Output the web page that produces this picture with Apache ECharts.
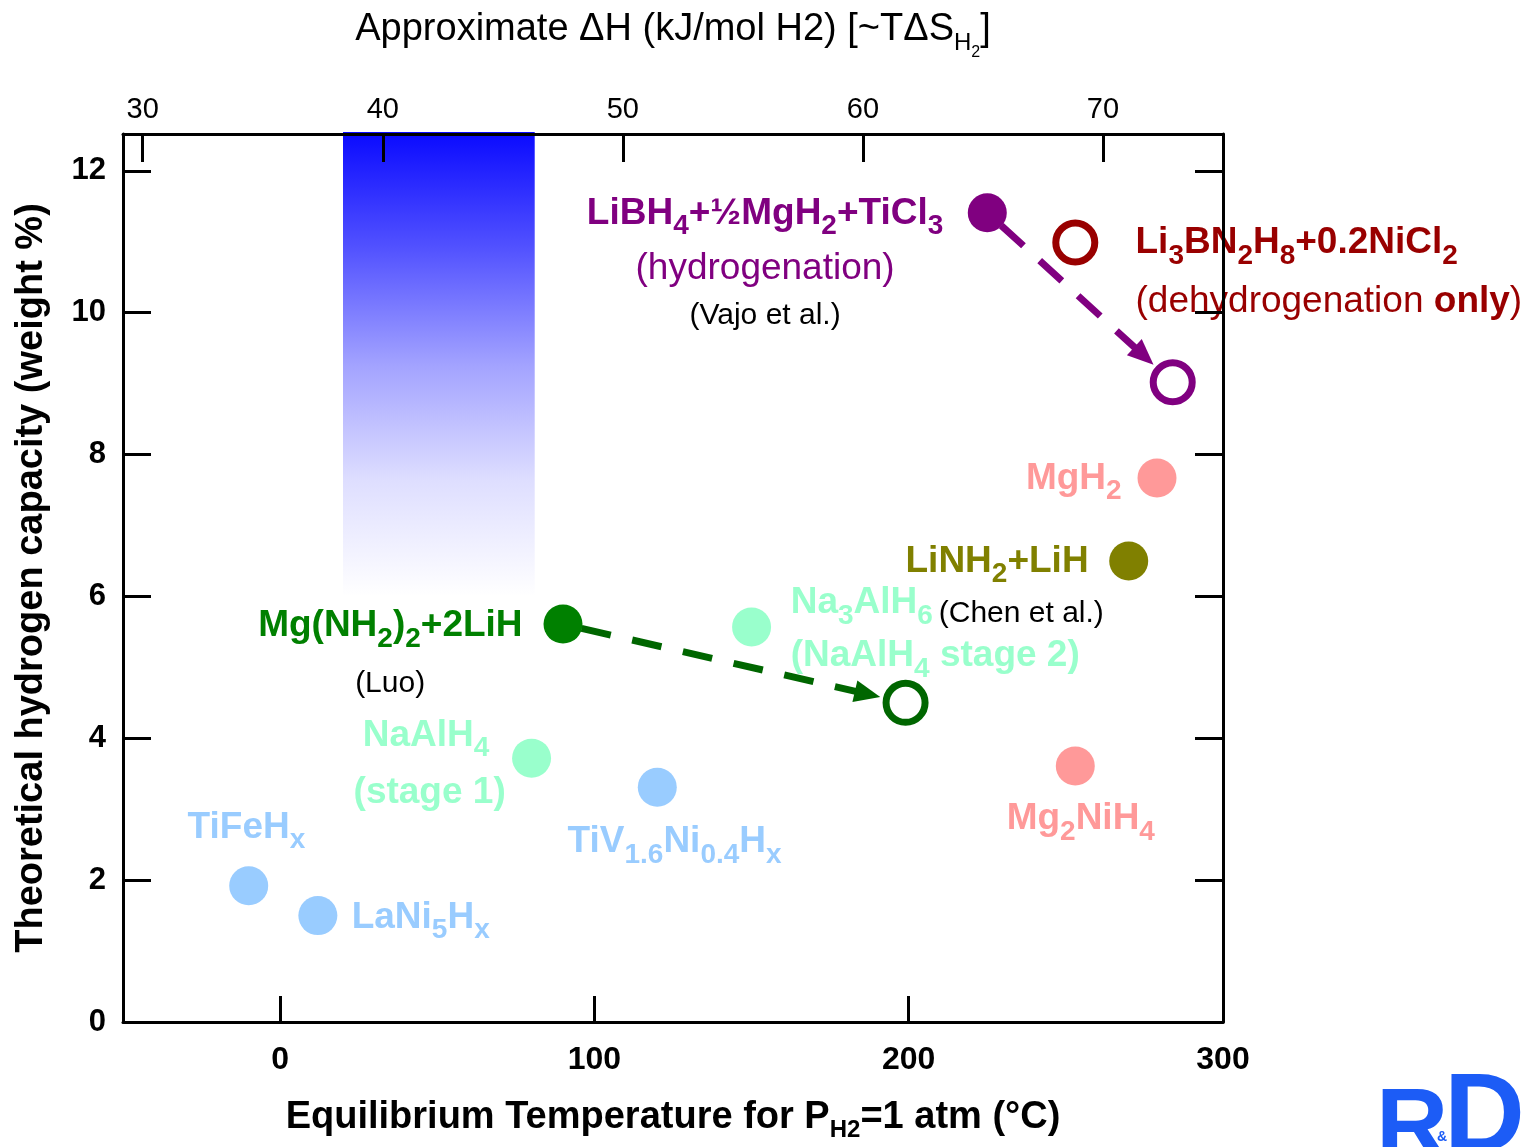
<!DOCTYPE html>
<html>
<head>
<meta charset="utf-8">
<title>Hydrogen storage materials</title>
<script src="https://cdn.jsdelivr.net/npm/echarts@6/dist/echarts.min.js"></script>
<style>
  html, body { margin: 0; padding: 0; background: #fff; }
  #chart { width: 1539px; height: 1147px; }
</style>
</head>
<body>
<div id="chart"></div>
<script>
// ---- Data -------------------------------------------------------------
// Filled markers: hydride systems (equilibrium T at 1 atm H2, capacity wt%)
const materials = ['TiFeHx', 'LaNi5Hx', 'NaAlH4 (stage 1)', 'TiV1.6Ni0.4Hx', 'Na3AlH6',
  'Mg(NH2)2+2LiH', 'MgH2', 'LiNH2+LiH', 'Mg2NiH4', 'LiBH4+1/2MgH2+TiCl3'];
const eqTemperature = [-10, 12, 80, 120, 150, 90, 279, 270, 253, 225];
const capacity = [1.92, 1.5, 3.72, 3.31, 5.57, 5.61, 7.67, 6.5, 3.61, 11.41];

// Open markers: destabilised / modified systems
const openSystems = ['Mg(NH2)2+2LiH (modified)', 'LiBH4+1/2MgH2+TiCl3 (dehydrogenation)', 'Li3BN2H8+0.2NiCl2'];
const openTemperature = [199, 284, 253];
const openCapacity = [4.5, 9.02, 10.99];

// Arrows: filled material index -> open marker index
const arrowFromMaterial = [5, 9];
const arrowToOpen = [0, 1];

// Target window for on-board storage (temperature range, minimum capacity)
const targetTemp = [20, 81];
const targetMinCapacity = 6;

// Axis ticks
const tempTicks = [0, 100, 200, 300];
const enthalpyTicks = [30, 40, 50, 60, 70];
const capacityTicks = [0, 2, 4, 6, 8, 10, 12];

// ---- Styling ----------------------------------------------------------
const FONT = "'Liberation Sans', Arial, Helvetica, sans-serif";
const C = {
  lightBlue: '#99ccff', mint: '#99ffcc', pink: '#ff9999', olive: '#808000',
  green: '#008000', greenLine: '#006600', purple: '#800080', darkRed: '#990000'
};
const materialColors = [C.lightBlue, C.lightBlue, C.mint, C.lightBlue, C.mint,
  C.green, C.pink, C.olive, C.pink, C.purple];
const openColors = [C.greenLine, C.purple, C.darkRed];
const arrowColors = [C.greenLine, C.purple];

const Y_MAX = 12.52;

// Rich text styles shared by all annotations
const rich = {
  b: { fontFamily: FONT, fontWeight: 'bold', fontSize: 37 },
  s: { fontFamily: FONT, fontWeight: 'bold', fontSize: 28, padding: [26, 0, 0, 0] },
  r: { fontFamily: FONT, fontWeight: 'normal', fontSize: 37 },
  rb: { fontFamily: FONT, fontWeight: 'bold', fontSize: 37 },
  k: { fontFamily: FONT, fontWeight: 'normal', fontSize: 30, color: '#000' }
};

// Annotation texts with their anchor (in axis units) and alignment
const annotations = [
  { text: '{b|LiBH}{s|4}{b|+½MgH}{s|2}{b|+TiCl}{s|3}', at: [154.3, 11.4], pos: 'inside', color: C.purple },
  { text: '{r|(hydrogenation)}', at: [154.3, 10.62], pos: 'inside', color: C.purple },
  { text: '{k|(Vajo et al.)}', at: [154.3, 9.96], pos: 'inside', color: '#000' },
  { text: '{b|Li}{s|3}{b|BN}{s|2}{b|H}{s|8}{b|+0.2NiCl}{s|2}', at: [272.0, 10.98], pos: 'right', color: C.darkRed },
  { text: '{r|(dehydrogenation }{rb|only}{r|)}', at: [272.0, 10.16], pos: 'right', color: C.darkRed },
  { text: '{b|Mg(NH}{s|2}{b|)}{s|2}{b|+2LiH}', at: [77.3, 5.58], pos: 'left', color: C.green },
  { text: '{k|(Luo)}', at: [35.0, 4.77], pos: 'inside', color: '#000' },
  { text: '{b|Na}{s|3}{b|AlH}{s|6}', at: [162.3, 5.91], pos: 'right', color: C.mint },
  { text: '{k|(Chen et al.)}', at: [209.4, 5.75], pos: 'right', color: '#000' },
  { text: '{b|(NaAlH}{s|4}{b| stage 2)}', at: [162.3, 5.16], pos: 'right', color: C.mint },
  { text: '{b|LiNH}{s|2}{b|+LiH}', at: [257.4, 6.49], pos: 'left', color: C.olive },
  { text: '{b|MgH}{s|2}', at: [267.9, 7.66], pos: 'left', color: C.pink },
  { text: '{b|Mg}{s|2}{b|NiH}{s|4}', at: [231.0, 2.86], pos: 'right', color: C.pink },
  { text: '{b|TiV}{s|1.6}{b|Ni}{s|0.4}{b|H}{s|x}', at: [91.3, 2.54], pos: 'right', color: C.lightBlue },
  { text: '{b|TiFeH}{s|x}', at: [-29.6, 2.74], pos: 'right', color: C.lightBlue },
  { text: '{b|LaNi}{s|5}{b|H}{s|x}', at: [22.6, 1.47], pos: 'right', color: C.lightBlue },
  { text: '{b|NaAlH}{s|4}', at: [26.1, 4.04], pos: 'right', color: C.mint },
  { text: '{b|(stage 1)}', at: [23.2, 3.23], pos: 'right', color: C.mint }
];

const axisLine = { show: true, onZero: false, lineStyle: { color: '#000', width: 3 } };
const tickStyle = { color: '#000', width: 3 };

const chart = echarts.init(document.getElementById('chart'), null, { renderer: 'canvas' });

chart.setOption({
  animation: false,
  backgroundColor: '#fff',
  grid: { left: 123, right: 316, top: 134, bottom: 121, containLabel: false },
  xAxis: [
    {
      type: 'value', position: 'bottom', min: -50, max: 300, z: 10,
      axisLine: axisLine,
      axisTick: { inside: true, length: 26, customValues: tempTicks, lineStyle: tickStyle },
      axisLabel: { customValues: tempTicks, fontFamily: FONT, fontSize: 32, fontWeight: 'bold', color: '#000', margin: 22 },
      splitLine: { show: false },
      name: '{m|Equilibrium Temperature for P}{s|H2}{m|=1 atm (°C)}',
      nameLocation: 'middle', nameGap: 96,
      nameTextStyle: {
        verticalAlign: 'middle', color: '#000',
        rich: {
          m: { fontFamily: FONT, fontWeight: 'bold', fontSize: 38, color: '#000' },
          s: { fontFamily: FONT, fontWeight: 'bold', fontSize: 24, color: '#000', padding: [24, 0, 0, 0] }
        }
      }
    },
    {
      type: 'value', position: 'top', min: 29.18, max: 75, z: 10,
      axisLine: axisLine,
      axisTick: { inside: true, length: 28, customValues: enthalpyTicks, lineStyle: tickStyle },
      axisLabel: { customValues: enthalpyTicks, fontFamily: FONT, fontSize: 29, color: '#000', margin: 10 },
      splitLine: { show: false },
      name: '{m|Approximate ΔH (kJ/mol H2) [~TΔS}{h|H}{t|2}{m|]}',
      nameLocation: 'middle', nameGap: 104,
      nameTextStyle: {
        verticalAlign: 'middle', color: '#000',
        rich: {
          m: { fontFamily: FONT, fontSize: 38, color: '#000' },
          h: { fontFamily: FONT, fontSize: 24, color: '#000', padding: [26, 0, 0, 0] },
          t: { fontFamily: FONT, fontSize: 16, color: '#000', padding: [46, 0, 0, 0] }
        }
      }
    }
  ],
  yAxis: [
    {
      type: 'value', position: 'left', min: 0, max: Y_MAX, z: 10,
      axisLine: axisLine,
      axisTick: { inside: true, length: 28, customValues: capacityTicks, lineStyle: tickStyle },
      axisLabel: { customValues: capacityTicks, fontFamily: FONT, fontSize: 31, fontWeight: 'bold', color: '#000', margin: 17 },
      splitLine: { show: false },
      name: 'Theoretical hydrogen capacity (weight %)',
      nameLocation: 'middle', nameGap: 91,
      nameTextStyle: { fontFamily: FONT, fontSize: 38, fontWeight: 'bold', color: '#000', verticalAlign: 'middle' }
    },
    {
      type: 'value', position: 'right', min: 0, max: Y_MAX, z: 10,
      axisLine: axisLine,
      axisTick: { inside: true, length: 28, customValues: capacityTicks, lineStyle: tickStyle },
      axisLabel: { show: false },
      splitLine: { show: false }
    }
  ],
  series: [
    // target window shaded from blue to white
    {
      type: 'custom', z: 1, silent: true, clip: false,
      data: [[targetTemp[0], targetTemp[1], targetMinCapacity]],
      renderItem: function (params, api) {
        const p0 = api.coord([api.value(0), Y_MAX]);
        const p1 = api.coord([api.value(1), api.value(2)]);
        return {
          type: 'rect',
          shape: { x: p0[0], y: p0[1] - 2, width: p1[0] - p0[0], height: p1[1] - p0[1] + 2 },
          style: {
            fill: new echarts.graphic.LinearGradient(0, 0, 0, 1, [
              { offset: 0, color: '#0a0aff' },
              { offset: 0.25, color: '#5252ff' },
              { offset: 0.5, color: '#a2a2ff' },
              { offset: 0.75, color: '#dedeff' },
              { offset: 1, color: '#ffffff' }
            ])
          }
        };
      }
    },
    // dashed arrows from filled to open markers
    {
      type: 'custom', z: 2, silent: true, clip: false,
      data: arrowFromMaterial.map(function (fi, i) {
        const oi = arrowToOpen[i];
        return [eqTemperature[fi], capacity[fi], openTemperature[oi], openCapacity[oi]];
      }),
      renderItem: function (params, api) {
        const a = api.coord([api.value(0), api.value(1)]);
        const b = api.coord([api.value(2), api.value(3)]);
        const color = arrowColors[params.dataIndex];
        const dx = b[0] - a[0], dy = b[1] - a[1];
        const len = Math.hypot(dx, dy), ux = dx / len, uy = dy / len;
        const nx = -uy, ny = ux;
        const startGap = 19, endGap = 26, headLen = 26, headHalf = 11;
        const tip = [b[0] - ux * endGap, b[1] - uy * endGap];
        const base = [tip[0] - ux * headLen, tip[1] - uy * headLen];
        return {
          type: 'group',
          children: [
            {
              type: 'line',
              shape: { x1: a[0] + ux * startGap, y1: a[1] + uy * startGap, x2: base[0] + ux * 3, y2: base[1] + uy * 3 },
              style: { stroke: color, lineWidth: 7, lineDash: [30, 22] }
            },
            {
              type: 'polygon',
              shape: { points: [tip, [base[0] + nx * headHalf, base[1] + ny * headHalf], [base[0] - nx * headHalf, base[1] - ny * headHalf]] },
              style: { fill: color }
            }
          ]
        };
      }
    },
    // filled markers
    {
      type: 'scatter', z: 3, silent: true, symbol: 'circle', symbolSize: 39,
      itemStyle: { opacity: 1 },
      data: materials.map(function (m, i) {
        return { name: m, value: [eqTemperature[i], capacity[i]], itemStyle: { color: materialColors[i], opacity: 1 } };
      })
    },
    // open markers
    {
      type: 'scatter', z: 3, silent: true, symbol: 'circle', symbolSize: 39,
      itemStyle: { opacity: 1 },
      data: openSystems.map(function (m, i) {
        return {
          name: m, value: [openTemperature[i], openCapacity[i]],
          itemStyle: { color: '#fff', borderColor: openColors[i], borderWidth: 7, opacity: 1 }
        };
      })
    },
    // text annotations
    {
      type: 'scatter', z: 4, silent: true, symbol: 'circle', symbolSize: 1,
      itemStyle: { color: 'rgba(0,0,0,0)', opacity: 1 },
      data: annotations.map(function (a) {
        return {
          value: a.at,
          label: {
            show: true, position: a.pos, distance: 0, color: a.color, opacity: 1,
            formatter: a.text, rich: rich
          }
        };
      })
    }
  ],
  graphic: [
    { type: 'text', left: 1376, top: 1080, silent: true, style: { text: 'R', font: "bold 100px " + FONT, fill: '#1c5cf6' } },
    { type: 'text', left: 1437, top: 1130, silent: true, style: { text: '&', font: "bold 14px " + FONT, fill: '#1c5cf6' } },
    { type: 'text', left: 1444, top: 1064, silent: true, style: { text: 'D', font: "bold 112px " + FONT, fill: '#1c5cf6' } }
  ]
});
</script>
</body>
</html>
